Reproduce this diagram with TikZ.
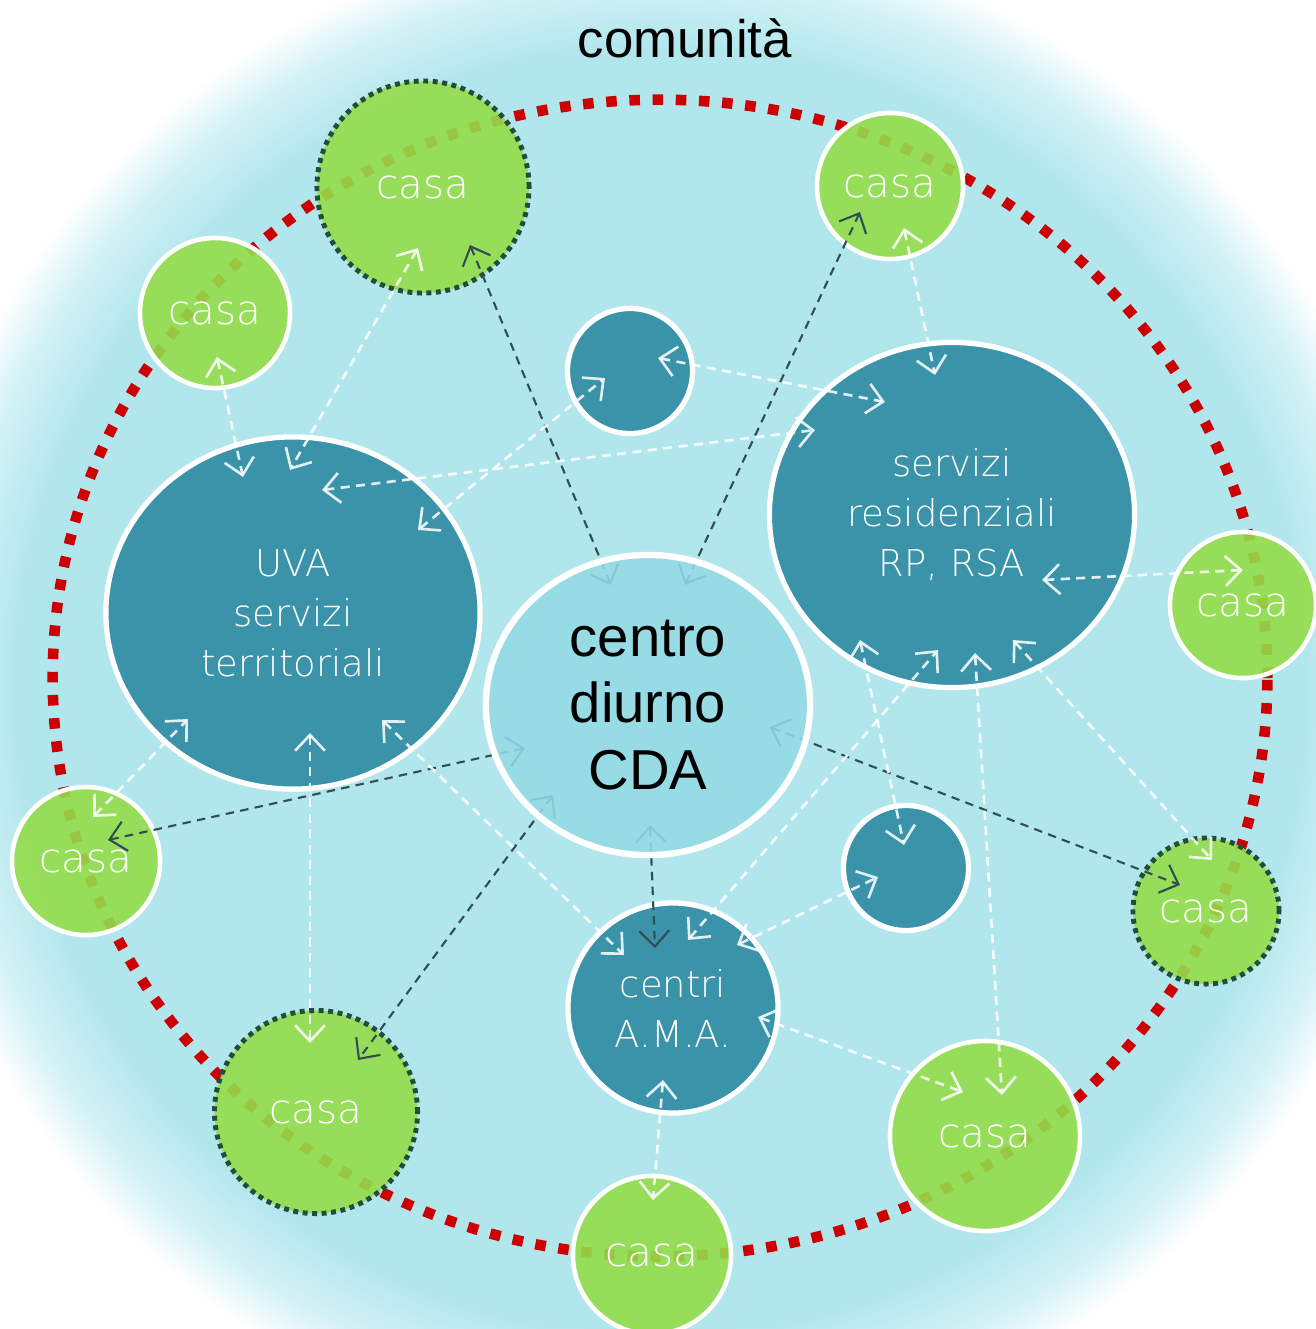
\documentclass[tikz,border=0pt]{standalone}
\usepackage{fontspec}
\setmainfont{Liberation Sans}
\newfontfamily\sottile{DejaVu Sans}[UprightFont=* ExtraLight]
\usetikzlibrary{arrows.meta,shapes.geometric,calc}

\definecolor{sfondo}{RGB}{176,230,236}
\definecolor{sfondochiaro}{RGB}{212,242,246}
\definecolor{verdecasa}{RGB}{148,221,74}
\definecolor{bluservizio}{RGB}{58,147,169}
\definecolor{azzurrocentro}{RGB}{148,218,229}
\definecolor{rossoanello}{RGB}{204,0,0}
\definecolor{scuro}{RGB}{50,78,84}
\definecolor{bordoscuro}{RGB}{34,76,62}

\pgfdeclareradialshading{comunita}{\pgfpoint{0bp}{0bp}}{color(0bp)=(sfondo); color(21bp)=(sfondo); color(23.4bp)=(sfondochiaro); color(25bp)=(white); color(50bp)=(white)}

\begin{document}
\begin{tikzpicture}[x=0.01cm, y=-0.01cm,
    >={Straight Barb[length=4.5pt,width=8.5pt]},
    casa/.style={circle, inner sep=0pt, fill=verdecasa, fill opacity=0.9, text opacity=1,
        draw=white, line width=1.3pt, text=white, font=\sottile\fontsize{11.5}{14}\selectfont},
    casabordo/.style={casa, draw=bordoscuro, line width=1.4pt, dash pattern=on 1.4pt off 1.3pt},
    servizio/.style={circle, inner sep=0pt, fill=bluservizio, draw=white, line width=1.5pt,
        text=white, align=center, font=\sottile\fontsize{10.5}{14.2}\selectfont},
    servizioovale/.style={servizio, ellipse},
    centro/.style={ellipse, inner sep=0pt, minimum width=3.24cm, minimum height=3cm,
        fill=azzurrocentro, fill opacity=0.88, text opacity=1, draw=white, line width=1.8pt,
        align=center, font=\fontsize{16}{18.8}\selectfont},
    anello/.style={draw=rossoanello, line width=3pt, dash pattern=on 3pt off 3.6pt},
    collegamento/.style={<->, draw=white, draw opacity=0.85, line width=0.75pt, dash pattern=on 2.6pt off 1.8pt},
    collegamentoscuro/.style={<->, draw=scuro, line width=0.6pt, dash pattern=on 2.4pt off 1.8pt}]

    \useasboundingbox (0,0) rectangle (1316,1329);
    \clip (0,0) rectangle (1316,1329);

    % sfondo della comunita
    \shade[shading=comunita] (660,690) circle [radius=7.6cm];
    \node[font=\fontsize{15}{18}\selectfont] (titolo) at (685,38) {comunità};

    % anello rosso
    \draw[anello] (660,678) ellipse [x radius=6.07cm, y radius=5.78cm];

    % le case
    \node[casabordo, minimum size=2.12cm] (c1) at (423,187) {casa};
    \node[casa, minimum size=1.46cm] (c2) at (890,186) {casa};
    \node[casa, minimum size=1.50cm] (c3) at (215,313) {casa};
    \node[casa, minimum size=1.46cm] (c4) at (1243,605) {casa};
    \node[casa, minimum size=1.48cm] (c5) at (86,861) {casa};
    \node[casabordo, minimum size=1.46cm] (c6) at (1206,911) {casa};
    \node[casabordo, minimum size=2.03cm] (c7) at (316,1112) {casa};
    \node[casa, minimum size=1.90cm] (c8) at (985,1136) {casa};
    \node[casa, minimum size=1.58cm] (c9) at (652,1255) {casa};

    % i servizi
    \node[servizioovale, minimum width=3.74cm, minimum height=3.52cm] (uva) at (293,613) {UVA\\servizi\\territoriali};
    \node[servizioovale, minimum width=3.65cm, minimum height=3.45cm] (res) at (952,515) {servizi\\residenziali\\RP, RSA};
    \node[servizio, minimum size=1.25cm] (sm1) at (630,371) {};
    \node[servizio, minimum size=1.25cm] (sm2) at (906,868) {};
    \node[servizio, minimum size=2.10cm] (ama) at (673,1008) {centri\\A.M.A.};

    \coordinate (cda) at (648,705);

    % collegamenti dal centro diurno
    \draw[collegamentoscuro] ($(cda)+(-37,-120)$) -- ($(c1)+(47,58)$);
    \draw[collegamentoscuro] ($(cda)+(37,-120)$) -- ($(c2)+(-30,26)$);
    \draw[collegamentoscuro] ($(cda)+(-123,43)$) -- ($(c5)+(22,-21)$);
    \draw[collegamentoscuro] ($(cda)+(-95,90)$) -- ($(c7)+(42,-52)$);
    \draw[collegamentoscuro] ($(cda)+(2,120)$) -- ($(ama)+(-18,-60)$);
    \draw[collegamentoscuro] ($(cda)+(122,22)$) -- ($(c6)+(-26,-26)$);

    % collegamenti tra servizi e case
    \draw[collegamento] ($(c3)+(2,44)$) -- ($(uva)+(-50,-136)$);
    \draw[collegamento] ($(c1)+(-5,61)$) -- ($(uva)+(-3,-143)$);
    \draw[collegamento] ($(uva)+(29,-123)$) -- ($(res)+(-137,-85)$);
    \draw[collegamento] ($(uva)+(125,-83)$) -- ($(sm1)+(-25,7)$);
    \draw[collegamento] ($(sm1)+(28,-13)$) -- ($(res)+(-67,-113)$);
    \draw[collegamento] ($(c2)+(14,42)$) -- ($(res)+(-17,-140)$);
    \draw[collegamento] ($(res)+(90,65)$) -- ($(c4)+(0,-35)$);
    \draw[collegamento] ($(c5)+(7,-44)$) -- ($(uva)+(-105,106)$);
    \draw[collegamento] ($(uva)+(17,120)$) -- ($(c7)+(-6,-69)$);
    \draw[collegamento] ($(uva)+(89,107)$) -- ($(ama)+(-49,-53)$);
    \draw[collegamento] ($(ama)+(15,-68)$) -- ($(res)+(-14,135)$);
    \draw[collegamento] ($(ama)+(64,-63)$) -- ($(sm2)+(-28,9)$);
    \draw[collegamento] ($(res)+(-92,125)$) -- ($(sm2)+(-2,-23)$);
    \draw[collegamento] ($(res)+(23,138)$) -- ($(c8)+(17,-41)$);
    \draw[collegamento] ($(res)+(61,125)$) -- ($(c6)+(6,-51)$);
    \draw[collegamento] ($(ama)+(85,9)$) -- ($(c8)+(-22,-44)$);
    \draw[collegamento] ($(ama)+(-10,72)$) -- ($(c9)+(1,-55)$);

    % centro diurno sopra i collegamenti
    \node[centro] (centro) at (cda) {centro\\diurno\\CDA};

\end{tikzpicture}
\end{document}
